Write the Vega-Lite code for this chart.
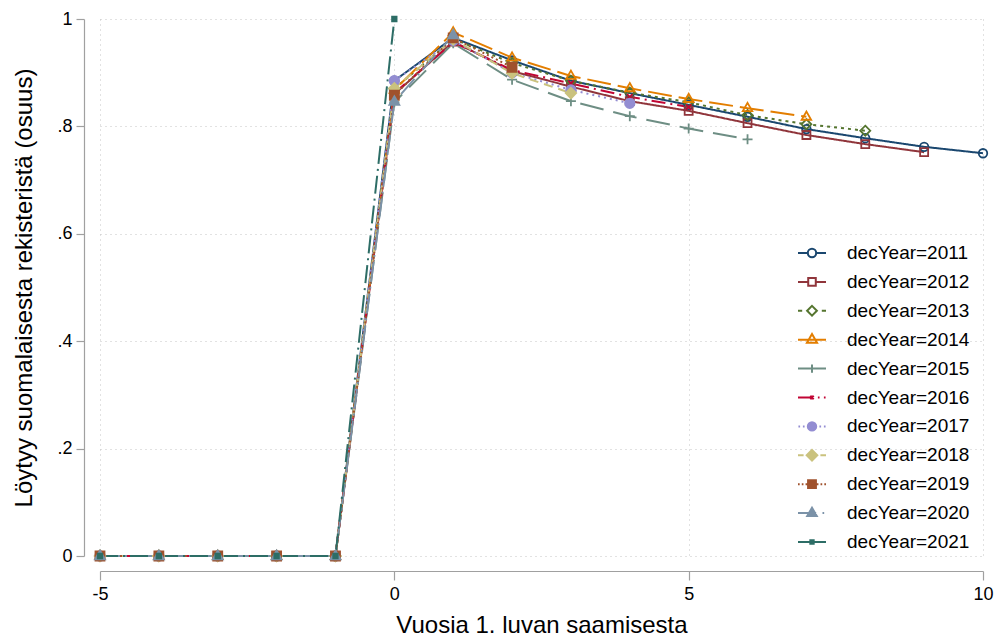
{
  "$schema": "https://vega.github.io/schema/vega-lite/v6.json",
  "width": 883,
  "height": 537,
  "autosize": "none",
  "padding": {"left": 100, "top": 19, "right": 14, "bottom": 80},
  "background": "white",
  "config": {"view": {"stroke": null}, "font": "Liberation Sans"},
  "data": {"values": [
    {"s": "decYear=2011", "x": -5, "y": 0}, {"s": "decYear=2011", "x": -4, "y": 0}, {"s": "decYear=2011", "x": -3, "y": 0}, {"s": "decYear=2011", "x": -2, "y": 0}, {"s": "decYear=2011", "x": -1, "y": 0},
    {"s": "decYear=2011", "x": 0, "y": 0.885}, {"s": "decYear=2011", "x": 1, "y": 0.965}, {"s": "decYear=2011", "x": 2, "y": 0.923}, {"s": "decYear=2011", "x": 3, "y": 0.885}, {"s": "decYear=2011", "x": 4, "y": 0.862}, {"s": "decYear=2011", "x": 5, "y": 0.84}, {"s": "decYear=2011", "x": 6, "y": 0.818}, {"s": "decYear=2011", "x": 7, "y": 0.795}, {"s": "decYear=2011", "x": 8, "y": 0.778}, {"s": "decYear=2011", "x": 9, "y": 0.762}, {"s": "decYear=2011", "x": 10, "y": 0.75},
    {"s": "decYear=2012", "x": -5, "y": 0}, {"s": "decYear=2012", "x": -4, "y": 0}, {"s": "decYear=2012", "x": -3, "y": 0}, {"s": "decYear=2012", "x": -2, "y": 0}, {"s": "decYear=2012", "x": -1, "y": 0},
    {"s": "decYear=2012", "x": 0, "y": 0.86}, {"s": "decYear=2012", "x": 1, "y": 0.958}, {"s": "decYear=2012", "x": 2, "y": 0.903}, {"s": "decYear=2012", "x": 3, "y": 0.874}, {"s": "decYear=2012", "x": 4, "y": 0.847}, {"s": "decYear=2012", "x": 5, "y": 0.829}, {"s": "decYear=2012", "x": 6, "y": 0.806}, {"s": "decYear=2012", "x": 7, "y": 0.784}, {"s": "decYear=2012", "x": 8, "y": 0.767}, {"s": "decYear=2012", "x": 9, "y": 0.752},
    {"s": "decYear=2013", "x": -5, "y": 0}, {"s": "decYear=2013", "x": -4, "y": 0}, {"s": "decYear=2013", "x": -3, "y": 0}, {"s": "decYear=2013", "x": -2, "y": 0}, {"s": "decYear=2013", "x": -1, "y": 0},
    {"s": "decYear=2013", "x": 0, "y": 0.87}, {"s": "decYear=2013", "x": 1, "y": 0.963}, {"s": "decYear=2013", "x": 2, "y": 0.918}, {"s": "decYear=2013", "x": 3, "y": 0.885}, {"s": "decYear=2013", "x": 4, "y": 0.863}, {"s": "decYear=2013", "x": 5, "y": 0.845}, {"s": "decYear=2013", "x": 6, "y": 0.821}, {"s": "decYear=2013", "x": 7, "y": 0.804}, {"s": "decYear=2013", "x": 8, "y": 0.792},
    {"s": "decYear=2014", "x": -5, "y": 0}, {"s": "decYear=2014", "x": -4, "y": 0}, {"s": "decYear=2014", "x": -3, "y": 0}, {"s": "decYear=2014", "x": -2, "y": 0}, {"s": "decYear=2014", "x": -1, "y": 0},
    {"s": "decYear=2014", "x": 0, "y": 0.868}, {"s": "decYear=2014", "x": 1, "y": 0.975}, {"s": "decYear=2014", "x": 2, "y": 0.928}, {"s": "decYear=2014", "x": 3, "y": 0.894}, {"s": "decYear=2014", "x": 4, "y": 0.871}, {"s": "decYear=2014", "x": 5, "y": 0.851}, {"s": "decYear=2014", "x": 6, "y": 0.834}, {"s": "decYear=2014", "x": 7, "y": 0.818},
    {"s": "decYear=2015", "x": -5, "y": 0}, {"s": "decYear=2015", "x": -4, "y": 0}, {"s": "decYear=2015", "x": -3, "y": 0}, {"s": "decYear=2015", "x": -2, "y": 0}, {"s": "decYear=2015", "x": -1, "y": 0},
    {"s": "decYear=2015", "x": 0, "y": 0.845}, {"s": "decYear=2015", "x": 1, "y": 0.955}, {"s": "decYear=2015", "x": 2, "y": 0.887}, {"s": "decYear=2015", "x": 3, "y": 0.847}, {"s": "decYear=2015", "x": 4, "y": 0.819}, {"s": "decYear=2015", "x": 5, "y": 0.796}, {"s": "decYear=2015", "x": 6, "y": 0.776},
    {"s": "decYear=2016", "x": -5, "y": 0}, {"s": "decYear=2016", "x": -4, "y": 0}, {"s": "decYear=2016", "x": -3, "y": 0}, {"s": "decYear=2016", "x": -2, "y": 0}, {"s": "decYear=2016", "x": -1, "y": 0},
    {"s": "decYear=2016", "x": 0, "y": 0.862}, {"s": "decYear=2016", "x": 1, "y": 0.957}, {"s": "decYear=2016", "x": 2, "y": 0.905}, {"s": "decYear=2016", "x": 3, "y": 0.88}, {"s": "decYear=2016", "x": 4, "y": 0.855}, {"s": "decYear=2016", "x": 5, "y": 0.836},
    {"s": "decYear=2017", "x": -5, "y": 0}, {"s": "decYear=2017", "x": -4, "y": 0}, {"s": "decYear=2017", "x": -3, "y": 0}, {"s": "decYear=2017", "x": -2, "y": 0}, {"s": "decYear=2017", "x": -1, "y": 0},
    {"s": "decYear=2017", "x": 0, "y": 0.885}, {"s": "decYear=2017", "x": 1, "y": 0.96}, {"s": "decYear=2017", "x": 2, "y": 0.9}, {"s": "decYear=2017", "x": 3, "y": 0.868}, {"s": "decYear=2017", "x": 4, "y": 0.843},
    {"s": "decYear=2018", "x": -5, "y": 0}, {"s": "decYear=2018", "x": -4, "y": 0}, {"s": "decYear=2018", "x": -3, "y": 0}, {"s": "decYear=2018", "x": -2, "y": 0}, {"s": "decYear=2018", "x": -1, "y": 0},
    {"s": "decYear=2018", "x": 0, "y": 0.871}, {"s": "decYear=2018", "x": 1, "y": 0.962}, {"s": "decYear=2018", "x": 2, "y": 0.899}, {"s": "decYear=2018", "x": 3, "y": 0.862},
    {"s": "decYear=2019", "x": -5, "y": 0}, {"s": "decYear=2019", "x": -4, "y": 0}, {"s": "decYear=2019", "x": -3, "y": 0}, {"s": "decYear=2019", "x": -2, "y": 0}, {"s": "decYear=2019", "x": -1, "y": 0},
    {"s": "decYear=2019", "x": 0, "y": 0.858}, {"s": "decYear=2019", "x": 1, "y": 0.965}, {"s": "decYear=2019", "x": 2, "y": 0.91},
    {"s": "decYear=2020", "x": -5, "y": 0}, {"s": "decYear=2020", "x": -4, "y": 0}, {"s": "decYear=2020", "x": -3, "y": 0}, {"s": "decYear=2020", "x": -2, "y": 0}, {"s": "decYear=2020", "x": -1, "y": 0},
    {"s": "decYear=2020", "x": 0, "y": 0.846}, {"s": "decYear=2020", "x": 1, "y": 0.97},
    {"s": "decYear=2021", "x": -5, "y": 0}, {"s": "decYear=2021", "x": -4, "y": 0}, {"s": "decYear=2021", "x": -3, "y": 0}, {"s": "decYear=2021", "x": -2, "y": 0}, {"s": "decYear=2021", "x": -1, "y": 0},
    {"s": "decYear=2021", "x": 0, "y": 1.0}
  ]},
  "encoding": {
    "x": {
      "field": "x", "type": "quantitative",
      "scale": {"domain": [-5, 10], "nice": false, "zero": false},
      "axis": {
        "values": [-5, 0, 5, 10], "labelExpr": "toString(datum.value)",
        "title": "Vuosia 1. luvan saamisesta", "titleFontSize": 24, "titleFontWeight": "normal", "titleColor": "black", "titlePadding": 10,
        "labelFontSize": 18, "labelColor": "black", "labelPadding": 5, "labelFlush": false,
        "tickSize": 9, "offset": 15, "domainColor": "#a0a0a0", "tickColor": "#a0a0a0", "domainWidth": 1.2, "tickWidth": 1.2,
        "grid": true, "gridColor": "#c4c4c4", "gridDash": [1, 4], "gridWidth": 1
      }
    },
    "y": {
      "field": "y", "type": "quantitative",
      "scale": {"domain": [0, 1], "nice": false, "zero": false},
      "axis": {
        "values": [0, 0.2, 0.4, 0.6, 0.8, 1],
        "labelExpr": "datum.value == 0 ? '0' : datum.value == 1 ? '1' : replace(format(datum.value, '.1f'), '0.', '.')",
        "title": "Löytyy suomalaisesta rekisteristä (osuus)", "titleFontSize": 24, "titleFontWeight": "normal", "titleColor": "black", "titlePadding": 20,
        "labelFontSize": 18, "labelColor": "black", "labelPadding": 4,
        "tickSize": 8, "offset": 16, "domainColor": "#a0a0a0", "tickColor": "#a0a0a0", "domainWidth": 1.2, "tickWidth": 1.2,
        "grid": true, "gridColor": "#c4c4c4", "gridDash": [1, 4], "gridWidth": 1
      }
    }
  },
  "layer": [
    {
      "mark": {"type": "line", "strokeWidth": 2},
      "encoding": {
        "stroke": {"field": "s", "type": "nominal", "legend": null,
          "scale": {"domain": ["decYear=2011","decYear=2012","decYear=2013","decYear=2014","decYear=2015","decYear=2016","decYear=2017","decYear=2018","decYear=2019","decYear=2020","decYear=2021"],
                    "range": ["#1a476f","#90353b","#55752f","#e37e00","#6e8e84","#c10534","#938dd2","#cac27e","#a0522d","#7b92a8","#2d6d66"]}},
        "strokeDash": {"field": "s", "type": "nominal", "legend": null,
          "scale": {"domain": ["decYear=2011","decYear=2012","decYear=2013","decYear=2014","decYear=2015","decYear=2016","decYear=2017","decYear=2018","decYear=2019","decYear=2020","decYear=2021"],
                    "range": [[1, 0], [1, 0], [3, 4], [24, 7], [24, 10], [14, 5, 2, 5], [2, 4], [9, 6], [2, 3], [20, 5, 2, 5], [18, 5, 2, 5]]}}
      }
    },
    {
      "mark": {"type": "point", "size": 100, "strokeWidth": 1.8, "opacity": 1},
      "encoding": {
        "stroke": {"field": "s", "type": "nominal", "legend": null,
          "scale": {"domain": ["decYear=2011","decYear=2012","decYear=2013","decYear=2014","decYear=2015","decYear=2016","decYear=2017","decYear=2018","decYear=2019","decYear=2020","decYear=2021"],
                    "range": ["#1a476f","#90353b","#55752f","#e37e00","#6e8e84","#c10534","#938dd2","#cac27e","#a0522d","#7b92a8","#2d6d66"]}},
        "fill": {"field": "s", "type": "nominal", "legend": null,
          "scale": {"domain": ["decYear=2011","decYear=2012","decYear=2013","decYear=2014","decYear=2015","decYear=2016","decYear=2017","decYear=2018","decYear=2019","decYear=2020","decYear=2021"],
                    "range": ["transparent","transparent","transparent","transparent","transparent","transparent","#938dd2","#cac27e","#a0522d","#7b92a8","#2d6d66"]}},
        "shape": {"field": "s", "type": "nominal", "legend": null,
          "scale": {"domain": ["decYear=2011","decYear=2012","decYear=2013","decYear=2014","decYear=2015","decYear=2016","decYear=2017","decYear=2018","decYear=2019","decYear=2020","decYear=2021"],
                    "range": [
                      "M-0.85,0A0.85,0.85,0,1,0,0.85,0A0.85,0.85,0,1,0,-0.85,0Z",
                      "M-0.8,-0.8H0.8V0.8H-0.8Z",
                      "M0,-1L1,0L0,1L-1,0Z",
                      "M0,-1.05L0.95,0.6H-0.95Z",
                      "M-1,0H1M0,-1V1",
                      "M-0.55,-0.55L0.55,0.55M-0.55,0.55L0.55,-0.55",
                      "M-0.95,0A0.95,0.95,0,1,0,0.95,0A0.95,0.95,0,1,0,-0.95,0Z",
                      "M0,-1.05L1.05,0L0,1.05L-1.05,0Z",
                      "M-0.9,-0.9H0.9V0.9H-0.9Z",
                      "M0,-1.1L1,0.65H-1Z",
                      "M-0.45,-0.45H0.45V0.45H-0.45Z"
                    ]}}
      }
    },
    {
      "transform": [{"filter": "datum.x == -5"}],
      "mark": {"type": "point", "size": 784, "strokeWidth": 2, "opacity": 0},
      "encoding": {
        "stroke": {"field": "s", "type": "nominal",
          "legend": {"title": null, "orient": "none", "legendX": 697, "legendY": 219, "symbolSize": 784, "symbolStrokeWidth": 2, "symbolOpacity": 1, "labelFontSize": 19, "labelFont": "Liberation Sans", "labelColor": "black", "labelOffset": 20, "rowPadding": 3.9, "padding": 0, "labelLimit": 300,
                     "encode": {"symbols": {"update": {"opacity": {"value": 1}}}}},
          "scale": {"domain": ["decYear=2011","decYear=2012","decYear=2013","decYear=2014","decYear=2015","decYear=2016","decYear=2017","decYear=2018","decYear=2019","decYear=2020","decYear=2021"],
                    "range": ["#1a476f","#90353b","#55752f","#e37e00","#6e8e84","#c10534","#938dd2","#cac27e","#a0522d","#7b92a8","#2d6d66"]}},
        "fill": {"field": "s", "type": "nominal",
          "legend": {"title": null, "orient": "none", "legendX": 697, "legendY": 219, "symbolSize": 784, "symbolStrokeWidth": 2, "symbolOpacity": 1, "labelFontSize": 19, "labelFont": "Liberation Sans", "labelColor": "black", "labelOffset": 20, "rowPadding": 3.9, "padding": 0, "labelLimit": 300,
                     "encode": {"symbols": {"update": {"opacity": {"value": 1}}}}},
          "scale": {"domain": ["decYear=2011","decYear=2012","decYear=2013","decYear=2014","decYear=2015","decYear=2016","decYear=2017","decYear=2018","decYear=2019","decYear=2020","decYear=2021"],
                    "range": ["transparent","transparent","transparent","transparent","transparent","transparent","#938dd2","#cac27e","#a0522d","#7b92a8","#2d6d66"]}},
        "shape": {"field": "s", "type": "nominal",
          "legend": {"title": null, "orient": "none", "legendX": 697, "legendY": 219, "symbolSize": 784, "symbolStrokeWidth": 2, "symbolOpacity": 1, "labelFontSize": 19, "labelFont": "Liberation Sans", "labelColor": "black", "labelOffset": 20, "rowPadding": 3.9, "padding": 0, "labelLimit": 300,
                     "encode": {"symbols": {"update": {"opacity": {"value": 1}}}}},
          "scale": {"domain": ["decYear=2011","decYear=2012","decYear=2013","decYear=2014","decYear=2015","decYear=2016","decYear=2017","decYear=2018","decYear=2019","decYear=2020","decYear=2021"],
                    "range": [
                      "M-1,0H-0.3M0.3,0H1M-0.3,0A0.3,0.3,0,1,0,0.3,0A0.3,0.3,0,1,0,-0.3,0Z",
                      "M-1,0H-0.27M0.27,0H1M-0.27,-0.27H0.27V0.27H-0.27Z",
                      "M-1,0H-0.7M0.7,0H1M0,-0.35L0.35,0L0,0.35L-0.35,0Z",
                      "M-1,0H1M0,-0.4L0.36,0.22H-0.36Z",
                      "M-1,0H1M0,-0.3V0.3",
                      "M-1,0H0.1M0.42,0H0.54M0.85,0H0.97M-0.12,-0.12L0.12,0.12M-0.12,0.12L0.12,-0.12",
                      "M-0.97,0H-0.85M-0.65,0H-0.53M0.53,0H0.65M0.85,0H0.97M-0.3,0A0.3,0.3,0,1,0,0.3,0A0.3,0.3,0,1,0,-0.3,0Z",
                      "M-1,0H-0.6M0.6,0H1M0,-0.38L0.38,0L0,0.38L-0.38,0Z",
                      "M-1,0H-0.88M-0.73,0H-0.61M-0.46,0H-0.34M0.34,0H0.46M0.61,0H0.73M0.88,0H1M-0.28,-0.28H0.28V0.28H-0.28Z",
                      "M-1,0H0.3M0.75,0H0.87M0,-0.38L0.34,0.2H-0.34Z",
                      "M-1,0H1M-0.12,-0.12H0.12V0.12H-0.12Z"
                    ]}}
      }
    }
  ],
  "resolve": {"scale": {"stroke": "independent", "fill": "independent", "shape": "independent"}}
}
